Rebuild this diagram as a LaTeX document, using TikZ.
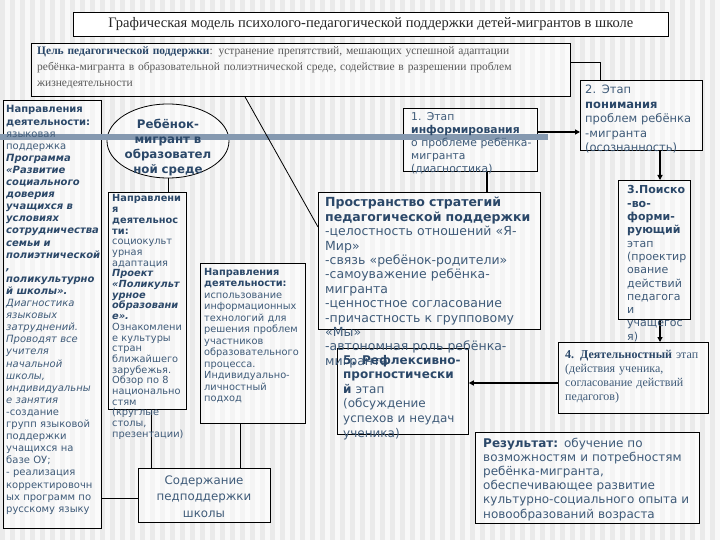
\documentclass[tikz,border=0pt]{standalone}
\usepackage{fontspec}
\setmainfont{DejaVu Sans}
\newfontfamily\serifru{Liberation Serif}
\usetikzlibrary{shapes.geometric,arrows.meta}
\definecolor{txt}{HTML}{3F5B79}
\definecolor{head}{HTML}{2B4869}
\definecolor{stripeA}{HTML}{EAEAEA}
\definecolor{stripeB}{HTML}{F8F8F8}
\definecolor{band}{HTML}{8599B0}
\begin{document}
\begin{tikzpicture}[x=1pt,y=-1pt,
  box/.style={draw=black, line width=0.8pt, fill=white, fill opacity=0.5, text opacity=1, rectangle, inner sep=0pt, anchor=north west},
  arr/.style={line width=1.8pt, -{Triangle[length=5pt,width=5pt]}},
  ln/.style={line width=0.8pt},
  thk/.style={line width=1.6pt},
  tx/.style={anchor=base west, inner sep=0pt, align=left, text=txt, text width=230pt},
]
\useasboundingbox (0,0) rectangle (720,540);
\fill[stripeB] (0,0) rectangle (720,540);
\foreach \i in {0,...,71} {\fill[stripeA] (\i*10,0) rectangle ++(5,540);}

% boxes
\node[box, fill opacity=1, minimum width=595pt, minimum height=24pt, font=\serifru\fontsize{14.5}{16}\selectfont, text=black!85] (title) at (73,12) {Графическая модель психолого-педагогической поддержки детей-мигрантов в школе};
\node[box, minimum width=539pt, minimum height=53pt] (goal) at (31,43) {};
\node[box, minimum width=98pt, minimum height=428pt] (left) at (3,100) {};
\node[draw=black, line width=0.8pt, fill=white, fill opacity=0.5, ellipse, minimum width=122pt, minimum height=74pt, inner sep=0pt] (ell) at (168,141) {};
\node[box, minimum width=78pt, minimum height=217pt] (mid) at (108,192) {};
\node[box, minimum width=105pt, minimum height=160pt] (third) at (200,263) {};
\node[box, minimum width=132pt, minimum height=54pt] (bottom) at (138,468) {};
\node[box, minimum width=134pt, minimum height=63pt] (s1) at (403,108) {};
\node[box, minimum width=122pt, minimum height=70pt] (s2) at (580,80) {};
\node[box, minimum width=222pt, minimum height=137pt] (strat) at (318,192) {};
\node[box, minimum width=72pt, minimum height=139pt] (s3) at (618,180) {};
\node[box, minimum width=150pt, minimum height=71pt] (s4) at (558,342) {};
\node[box, minimum width=131pt, minimum height=86pt] (s5) at (337,348) {};
\node[box, minimum width=224pt, minimum height=91pt] (res) at (475,432) {};

% decorative band
\fill[band] (0,134.5) rectangle (548,140.5);

% helper coordinates
\coordinate (cgoal) at (600,62);
\coordinate (cgoalb) at (245,0);
\coordinate (cstratl) at (0,227);
\coordinate (c12) at (0,132);
\coordinate (c23) at (660,0);
\coordinate (c45) at (0,383);
\coordinate (c1s) at (487,0);
\coordinate (cmid) at (151,0);
\coordinate (cthird) at (240,0);
\coordinate (cleft) at (0,498);

% connectors
\draw[ln] (goal.east |- cgoal) -| (s2.north -| cgoal);
\draw[ln] (goal.south -| cgoalb) -- (strat.west |- cstratl);
\draw[arr] (s1.east |- c12) -- (s2.west |- c12);
\draw[arr] (s2.south -| c23) -- (s3.north -| c23);
\draw[arr] (s3.south -| c23) -- (s4.north -| c23);
\draw[arr] (s4.west |- c45) -- (s5.east |- c45);
\draw[thk] (s1.south -| c1s) -- (strat.north -| c1s);
\draw[ln] (ell.south) -- (ell.south |- mid.north);
\draw[ln] (mid.south -| cmid) -- (bottom.north -| cmid);
\draw[ln] (third.south -| cthird) -- (bottom.north -| cthird);
\draw[ln] (left.east |- cleft) -- (bottom.west |- cleft);

% texts
\node[tx, text width=540pt, font=\serifru\fontsize{11.5}{16}\selectfont, text=black!65] (tgoal) at (37,55) {{\bfseries\color{head}Цель педагогической поддержки}: устранение препятствий, мешающих успешной адаптации\\ребёнка-мигранта в образовательной полиэтнической среде, содействие в разрешении проблем\\жизнедеятельности};

\node[tx, font=\fontsize{10}{12.1}\selectfont] (tleft) at (6,113) {\bfseries\color{head}Направления\\деятельности:\\
\mdseries\color{txt}языковая\\поддержка\\
\bfseries\itshape\color{head}Программа\\«Развитие\\социального\\доверия\\учащихся в\\условиях\\сотрудничества\\семьи и\\полиэтнической\\,\\поликультурно\\й школы».\\
\mdseries\color{txt}Диагностика\\языковых\\затруднений.\\Проводят все\\учителя\\начальной\\школы,\\индивидуальны\\е занятия\\
\upshape -создание\\групп языковой\\поддержки\\учащихся на\\базе ОУ;\\- реализация\\корректировочн\\ых программ по\\русскому языку};

\node[inner sep=0pt, anchor=base, text width=122pt, align=center, font=\bfseries\fontsize{11.8}{15}\selectfont, text=head] (tell) at (168,129) {Ребёнок-\\мигрант в\\образовател\\ной среде};

\node[tx, font=\fontsize{9.8}{10.7}\selectfont] (tmid) at (112,202) {\bfseries\color{head}Направлени\\я\\деятельнос\\ти:\\
\mdseries\color{txt}социокульт\\урная\\адаптация\\
\bfseries\itshape\color{head}Проект\\«Поликульт\\урное\\образовани\\е».\\
\mdseries\upshape\color{txt}Ознакомлени\\е культуры\\стран\\ближайшего\\зарубежья.\\Обзор по 8\\национально\\стям\\(круглые\\столы,\\презентации)};

\node[tx, font=\fontsize{9.8}{11.5}\selectfont] (tthird) at (204,275) {\bfseries\color{head}Направления\\деятельности:\\
\mdseries\color{txt}использование\\информационных\\технологий для\\решения проблем\\участников\\образовательного\\процесса.\\Индивидуально-\\личностный\\подход};

\node[inner sep=0pt, anchor=base, text width=130pt, align=center, font=\fontsize{11.8}{16.5}\selectfont, text=txt] (tbottom) at (204,484) {Содержание\\педподдержки\\школы};

\node[tx, font=\fontsize{10.8}{12.8}\selectfont] (ts1) at (411,121) {1. Этап\\{\bfseries\color{head}информирования}\\о проблеме ребёнка-\\мигранта\\(диагностика)};

\node[tx, font=\fontsize{11.5}{14.5}\selectfont] (ts2) at (585,94) {2. Этап\\{\bfseries\color{head}понимания}\\проблем ребёнка\\-мигранта\\(осознанность)};

\node[tx, font=\fontsize{11}{13.3}\selectfont] (ts3) at (627,194) {\bfseries\color{head}3.Поиско\\-во-\\форми-\\рующий\\
\mdseries\color{txt}этап\\(проектир\\ование\\действий\\педагога\\и\\учащегос\\я)};

\node[tx, font=\serifru\fontsize{12}{14.3}\selectfont] (ts4) at (565,358) {{\bfseries\color{head}4. Деятельностный} этап\\(действия ученика,\\согласование действий\\педагогов)};

\node[tx, font=\fontsize{12.5}{14.4}\selectfont] (tstrat) at (325,207) {\bfseries\color{head}Пространство стратегий\\педагогической поддержки\\
\mdseries\color{txt}\makebox[207pt][s]{-целостность отношений «Я-}\\Мир»\\-связь «ребёнок-родители»\\\makebox[207pt][s]{-самоуважение ребёнка-}\\мигранта\\-ценностное согласование\\\makebox[207pt][s]{-причастность к групповому}\\«Мы»\\\makebox[207pt][s]{-автономная роль ребёнка-}\\мигранта};

\node[tx, font=\fontsize{12}{14.6}\selectfont] (ts5) at (343,364) {\bfseries\color{head}5. Рефлексивно-\\прогностически\\й \mdseries\color{txt}этап\\(обсуждение\\успехов и неудач\\ученика)};

\node[tx, font=\fontsize{12}{14.2}\selectfont] (tres) at (483,447) {{\bfseries\color{head}Результат:} обучение по\\возможностям и потребностям\\ребёнка-мигранта,\\обеспечивающее развитие\\культурно-социального опыта и\\новообразований возраста};
\end{tikzpicture}
\end{document}
